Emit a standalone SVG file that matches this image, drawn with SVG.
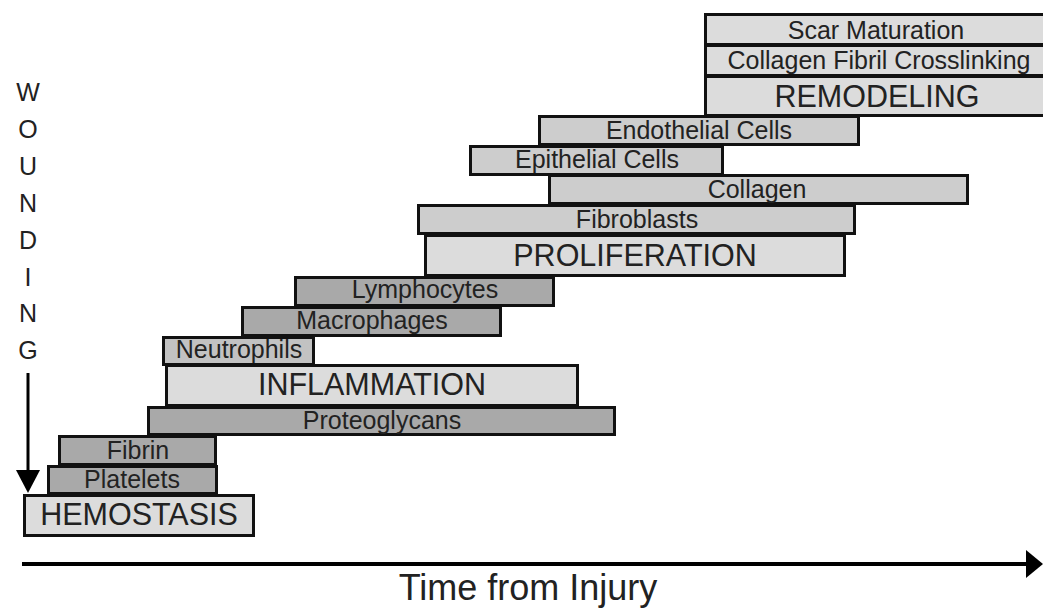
<svg xmlns="http://www.w3.org/2000/svg" width="1043" height="613" viewBox="0 0 1043 613">
<defs>
<style>
.bar{stroke:#111;stroke-width:3}
.light{fill:#dcdcdc}
.mid{fill:#cdcdcd}
.neu{fill:#c2c2c2}
.dark{fill:#a9a9a9}
.s{font-family:"Liberation Sans",Arial,sans-serif;font-size:25px;fill:#222;text-anchor:middle}
.b{font-family:"Liberation Sans",Arial,sans-serif;font-size:30.5px;fill:#222;text-anchor:middle}
.w{font-family:"Liberation Sans",Arial,sans-serif;font-size:25px;fill:#222;text-anchor:middle}
</style>
<marker id="ah" markerWidth="8" markerHeight="8" refX="0" refY="4" orient="auto" markerUnits="userSpaceOnUse" viewBox="0 0 8 8"><path d="M0,0 L8,4 L0,8 Z" fill="#000"/></marker>
</defs>
<rect width="1043" height="613" fill="#fff"/>

<g id="hemostasis"><rect class="bar light" x="24.5" y="495.5" width="229" height="40"/><text class="b" x="139" y="525">HEMOSTASIS</text></g>
<g id="platelets"><rect class="bar dark" x="48.5" y="466.5" width="168" height="27"/><text class="s" x="132" y="488">Platelets</text></g>
<g id="fibrin"><rect class="bar dark" x="59.5" y="436.5" width="156" height="28"/><text class="s" x="138" y="459">Fibrin</text></g>
<g id="proteoglycans"><rect class="bar dark" x="148.5" y="407.5" width="466" height="27"/><text class="s" x="382" y="429">Proteoglycans</text></g>
<g id="inflammation"><rect class="bar light" x="166.5" y="365.5" width="411" height="40"/><text class="b" x="372" y="395">INFLAMMATION</text></g>
<g id="neutrophils"><rect class="bar neu" x="163.5" y="337.5" width="150" height="27"/><text class="s" x="239" y="358">Neutrophils</text></g>
<g id="macrophages"><rect class="bar dark" x="242.5" y="307.5" width="258" height="28"/><text class="s" x="372" y="329">Macrophages</text></g>
<g id="lymphocytes"><rect class="bar dark" x="295.5" y="277.5" width="258" height="28"/><text class="s" x="425" y="298">Lymphocytes</text></g>
<g id="proliferation"><rect class="bar light" x="425.5" y="235.5" width="419" height="40"/><text class="b" x="635" y="266">PROLIFERATION</text></g>
<g id="fibroblasts"><rect class="bar mid" x="418.5" y="205.5" width="436" height="28"/><text class="s" x="637" y="228">Fibroblasts</text></g>
<g id="collagen"><rect class="bar mid" x="549.5" y="175.5" width="418" height="28"/><text class="s" x="757" y="198">Collagen</text></g>
<g id="epithelial"><rect class="bar mid" x="470.5" y="146.5" width="252" height="28"/><text class="s" x="597" y="168">Epithelial Cells</text></g>
<g id="endothelial"><rect class="bar mid" x="539.5" y="116.5" width="319" height="28"/><text class="s" x="699" y="139">Endothelial Cells</text></g>
<g id="remodeling"><rect class="bar light" x="705.5" y="76.5" width="345" height="39"/><text class="b" x="877" y="107">REMODELING</text></g>
<g id="crosslinking"><rect class="bar light" x="705.5" y="45.5" width="345" height="30"/><text class="s" x="879" y="69">Collagen Fibril Crosslinking</text></g>
<g id="scar"><rect class="bar light" x="705.5" y="14.5" width="345" height="30"/><text class="s" x="876" y="39">Scar Maturation</text></g>

<g id="wounding">
<text class="w" x="28" y="101">W</text>
<text class="w" x="28" y="138">O</text>
<text class="w" x="28" y="175">U</text>
<text class="w" x="28" y="212">N</text>
<text class="w" x="28" y="249">D</text>
<text class="w" x="28" y="286">I</text>
<text class="w" x="28" y="322">N</text>
<text class="w" x="28" y="359">G</text>
</g>
<g id="time-label"><text x="528" y="600" font-family="Liberation Sans,Arial,sans-serif" font-size="36" fill="#222" text-anchor="middle">Time from Injury</text></g>

<g id="connectors">
<line x1="28" y1="373" x2="28" y2="472" stroke="#000" stroke-width="3"/>
<path d="M16,470 L40,470 L28,493 Z" fill="#000"/>
<line x1="22" y1="564" x2="1028" y2="564" stroke="#000" stroke-width="4"/>
<path d="M1026,550 L1043,564 L1026,578 Z" fill="#000"/>
</g>
</svg>
